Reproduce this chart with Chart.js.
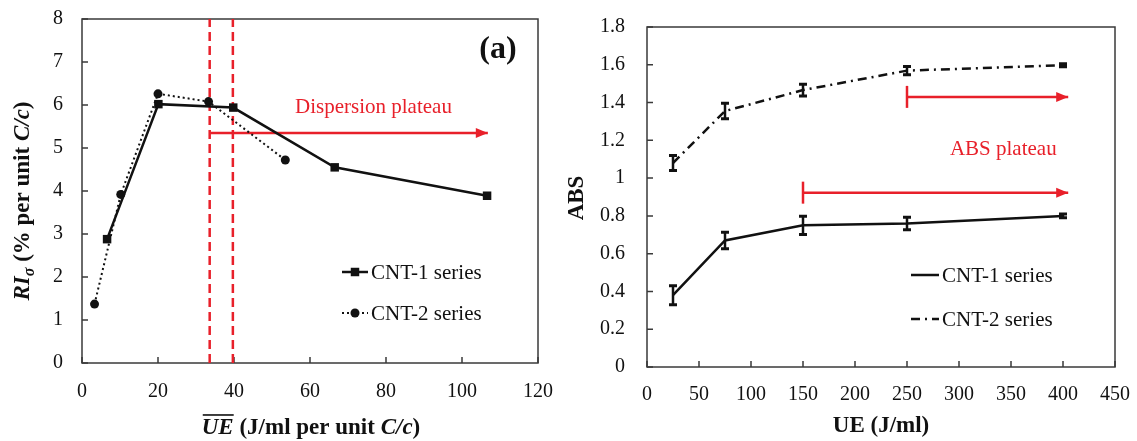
<!DOCTYPE html>
<html>
<head>
<meta charset="utf-8">
<script src="https://cdn.jsdelivr.net/npm/chart.js@4.4.0/dist/chart.umd.min.js"></script>
<style>
  html, body { margin: 0; padding: 0; background: #fff; }
  #wrap { position: relative; width: 1137px; height: 441px; overflow: hidden; }
  canvas { position: absolute; top: 0; }
  #chartA { left: 0; }
  #chartB { left: 560px; }
</style>
</head>
<body>
<div id="wrap">
  <canvas id="chartA" width="560" height="441"></canvas>
  <canvas id="chartB" width="577" height="441"></canvas>
</div>
<script>
// Panel (a): RI_sigma against normalised sonication energy
const ueNormCnt1 = [6.6, 20.1, 39.8, 66.5, 106.6];
const riCnt1 = [2.88, 6.02, 5.94, 4.55, 3.89];
const ueNormCnt2 = [3.3, 10.2, 20.0, 33.3, 53.5];
const riCnt2 = [1.37, 3.92, 6.26, 6.08, 4.72];
const plateauBounds = [33.6, 39.7];
const dispersionArrow = [33.8, 106.8];
const dispersionArrowY = 5.35;

// Panel (b): ABS against UE
const ueLevels = [25, 75, 150, 250, 400];
const absCnt1 = [0.38, 0.67, 0.75, 0.76, 0.80];
const errCnt1 = [0.05, 0.044, 0.048, 0.033, 0.01];
const absCnt2 = [1.08, 1.355, 1.466, 1.569, 1.598];
const errCnt2 = [0.04, 0.041, 0.031, 0.022, 0.008];
const absArrowCnt2 = [250, 405];
const absArrowCnt2Y = 1.43;
const absArrowCnt1 = [150, 405];
const absArrowCnt1Y = 0.923;

const SERIF = '"Liberation Serif", "Times New Roman", serif';
const INK = '#111111';
const RED = '#e8202a';
const FRAME = '#3a3a3a';

function pts(xs, ys) {
  return xs.map((x, i) => ({ x: x, y: ys[i] }));
}
function hline(xs, y) {
  return [{ x: xs[0], y: y }, { x: xs[1], y: y }];
}

// caja del gráfico y marcas hacia dentro
const frameTicks = {
  id: 'frameTicks',
  beforeDatasetsDraw(chart) {
    const { ctx, chartArea: a, scales: { x, y } } = chart;
    ctx.save();
    ctx.strokeStyle = FRAME;
    ctx.lineWidth = 1.5;
    ctx.strokeRect(a.left, a.top, a.right - a.left, a.bottom - a.top);
    ctx.beginPath();
    x.ticks.forEach(t => {
      const px = x.getPixelForValue(t.value);
      ctx.moveTo(px, a.bottom);
      ctx.lineTo(px, a.bottom - 6);
    });
    y.ticks.forEach(t => {
      const py = y.getPixelForValue(t.value);
      ctx.moveTo(a.left, py);
      ctx.lineTo(a.left + 6, py);
    });
    ctx.stroke();
    ctx.restore();
  }
};

// barras de error (solo eje y)
const errorBars = {
  id: 'errorBars',
  afterDatasetsDraw(chart) {
    const { ctx, scales: { y } } = chart;
    chart.data.datasets.forEach((ds, i) => {
      if (!ds.errors) return;
      const meta = chart.getDatasetMeta(i);
      ctx.save();
      ctx.strokeStyle = INK;
      meta.data.forEach((p, j) => {
        const v = ds.data[j].y;
        const e = ds.errors[j];
        const y1 = y.getPixelForValue(v + e);
        const y2 = y.getPixelForValue(v - e);
        ctx.lineWidth = 2.5;
        ctx.beginPath();
        ctx.moveTo(p.x, y1);
        ctx.lineTo(p.x, y2);
        ctx.stroke();
        ctx.lineWidth = 3;
        ctx.beginPath();
        ctx.moveTo(p.x - 4, y1);
        ctx.lineTo(p.x + 4, y1);
        ctx.moveTo(p.x - 4, y2);
        ctx.lineTo(p.x + 4, y2);
        ctx.stroke();
      });
      ctx.restore();
    });
  }
};

// puntas de flecha rojas
const arrowMarks = {
  id: 'arrowMarks',
  afterDatasetsDraw(chart) {
    const ctx = chart.ctx;
    chart.data.datasets.forEach((ds, i) => {
      if (!ds.arrowHead) return;
      const pts = chart.getDatasetMeta(i).data;
      const a = pts[0];
      const b = pts[pts.length - 1];
      ctx.save();
      ctx.fillStyle = ds.borderColor;
      ctx.strokeStyle = ds.borderColor;
      ctx.beginPath();
      ctx.moveTo(b.x, b.y);
      ctx.lineTo(b.x - 12, b.y - 5);
      ctx.lineTo(b.x - 12, b.y + 5);
      ctx.closePath();
      ctx.fill();
      if (ds.startBar) {
        ctx.lineWidth = ds.borderWidth;
        ctx.beginPath();
        ctx.moveTo(a.x, a.y - ds.startBar);
        ctx.lineTo(a.x, a.y + ds.startBar);
        ctx.stroke();
      }
      ctx.restore();
    });
  }
};

// leyenda propia dentro del área
const seriesKey = {
  id: 'seriesKey',
  afterDraw(chart, args, opts) {
    if (!opts.items) return;
    const ctx = chart.ctx;
    opts.items.forEach((it, k) => {
      const ds = chart.data.datasets[it];
      const y = opts.y[k];
      ctx.save();
      ctx.strokeStyle = ds.borderColor;
      ctx.lineWidth = ds.borderWidth;
      ctx.setLineDash(ds.borderDash || []);
      ctx.beginPath();
      ctx.moveTo(opts.x, y);
      ctx.lineTo(opts.x + opts.len, y);
      ctx.stroke();
      ctx.setLineDash([]);
      if (ds.pointRadius > 0) {
        ctx.fillStyle = ds.backgroundColor;
        Chart.helpers.drawPoint(ctx, {
          pointStyle: ds.pointStyle, radius: ds.pointRadius, rotation: 0, borderWidth: 0
        }, opts.x + opts.len / 2, y);
      }
      ctx.fillStyle = INK;
      ctx.font = '21px ' + SERIF;
      ctx.textAlign = 'left';
      ctx.textBaseline = 'middle';
      ctx.fillText(ds.label, opts.x + opts.len + 3, y + 1);
      ctx.restore();
    });
  }
};

function drawRich(ctx, parts, cx, cy, size) {
  let total = 0;
  parts.forEach(p => {
    ctx.font = p.font;
    p.w = ctx.measureText(p.text).width;
    total += p.w;
  });
  let x = cx - total / 2;
  const base = cy + size * 0.32;
  ctx.textAlign = 'left';
  ctx.textBaseline = 'alphabetic';
  parts.forEach(p => {
    ctx.font = p.font;
    ctx.fillText(p.text, x, base + (p.dy || 0));
    if (p.overline) ctx.fillRect(x + 1, base - size * 0.66 - 5, p.w - 1, 1.6);
    x += p.w;
  });
}

// títulos de ejes y textos
const panelText = {
  id: 'panelText',
  afterDraw(chart, args, opts) {
    if (!opts.items) return;
    const ctx = chart.ctx;
    opts.items.forEach(it => {
      ctx.save();
      ctx.fillStyle = it.color || INK;
      let cx = it.x, cy = it.y;
      if (it.data) {
        cx = chart.scales.x.getPixelForValue(it.data[0]);
        cy = chart.scales.y.getPixelForValue(it.data[1]);
      }
      if (it.rotate) {
        ctx.translate(cx, cy);
        ctx.rotate(-Math.PI / 2);
        cx = 0; cy = 0;
      }
      drawRich(ctx, it.parts, cx, cy, it.size);
      ctx.restore();
    });
  }
};

const B = s => 'bold ' + s + 'px ' + SERIF;
const BI = s => 'italic bold ' + s + 'px ' + SERIF;
const R = s => s + 'px ' + SERIF;

function axisOpts(min, max, step, size, pad, fmt) {
  const o = {
    type: 'linear', min: min, max: max,
    grid: { display: false, drawTicks: false }, border: { display: false },
    ticks: { stepSize: step, color: INK, padding: pad, font: { family: SERIF, size: 20 } },
    afterFit(scale) {
      if (scale.isHorizontal()) scale.height = size; else scale.width = size;
      // sin relleno extra por las etiquetas: el área queda fija
      scale.paddingLeft = scale.paddingRight = scale.paddingTop = scale.paddingBottom = 0;
    }
  };
  if (fmt) o.ticks.callback = fmt;
  return o;
}

const plugins = [frameTicks, errorBars, arrowMarks, seriesKey, panelText];

new Chart(document.getElementById('chartA'), {
  type: 'line',
  data: {
    datasets: [
      { label: 'CNT-1 series', data: pts(ueNormCnt1, riCnt1), borderColor: INK, backgroundColor: INK,
        borderWidth: 2.5, pointStyle: 'rect', pointRadius: 6, pointBorderWidth: 0 },
      { label: 'CNT-2 series', data: pts(ueNormCnt2, riCnt2), borderColor: INK, backgroundColor: INK,
        borderWidth: 2, borderDash: [2, 3], pointStyle: 'circle', pointRadius: 4.5, pointBorderWidth: 0 },
      { label: 'lim1', data: [{ x: plateauBounds[0], y: 0 }, { x: plateauBounds[0], y: 8 }],
        borderColor: RED, borderWidth: 2.5, borderDash: [9, 5], pointRadius: 0 },
      { label: 'lim2', data: [{ x: plateauBounds[1], y: 0 }, { x: plateauBounds[1], y: 8 }],
        borderColor: RED, borderWidth: 2.5, borderDash: [9, 5], pointRadius: 0 },
      { label: 'plateau', data: hline(dispersionArrow, dispersionArrowY),
        borderColor: RED, borderWidth: 2.5, pointRadius: 0, arrowHead: true }
    ]
  },
  options: {
    responsive: false,
    animation: false,
    devicePixelRatio: 1,
    layout: { padding: { top: 19, right: 22, left: 0, bottom: 0 } },
    scales: {
      x: axisOpts(0, 120, 20, 78, 17),
      y: axisOpts(0, 8, 1, 82, 19)
    },
    plugins: {
      legend: { display: false },
      tooltip: { enabled: false },
      seriesKey: { items: [0, 1], x: 342, len: 26, y: [272, 313] },
      panelText: {
        items: [
          { rotate: true, x: 22, y: 201, size: 23, parts: [
            { text: 'RI', font: BI(23) }, { text: 'σ', font: BI(16), dy: 5 },
            { text: ' (% per unit ', font: B(23) }, { text: 'C/c', font: BI(23) }, { text: ')', font: B(23) }
          ] },
          { x: 311, y: 427, size: 23, parts: [
            { text: 'UE', font: BI(23), overline: true }, { text: ' (J/ml per unit ', font: B(23) },
            { text: 'C/c', font: BI(23) }, { text: ')', font: B(23) }
          ] },
          { x: 498, y: 48, size: 32, parts: [{ text: '(a)', font: B(32) }] },
          { data: [76.7, 5.98], size: 21, color: RED, parts: [{ text: 'Dispersion plateau', font: R(21) }] }
        ]
      }
    }
  },
  plugins: plugins
});

new Chart(document.getElementById('chartB'), {
  type: 'line',
  data: {
    datasets: [
      { label: 'CNT-1 series', data: pts(ueLevels, absCnt1), errors: errCnt1, borderColor: INK,
        backgroundColor: INK, borderWidth: 2.5, pointRadius: 0 },
      { label: 'CNT-2 series', data: pts(ueLevels, absCnt2), errors: errCnt2, borderColor: INK,
        backgroundColor: INK, borderWidth: 2.5, borderDash: [9, 5, 2, 5], pointRadius: 0 },
      { label: 'plateau2', data: hline(absArrowCnt2, absArrowCnt2Y), borderColor: RED, borderWidth: 2.5,
        pointRadius: 0, arrowHead: true, startBar: 11 },
      { label: 'plateau1', data: hline(absArrowCnt1, absArrowCnt1Y), borderColor: RED, borderWidth: 2.5,
        pointRadius: 0, arrowHead: true, startBar: 11 }
    ]
  },
  options: {
    responsive: false,
    animation: false,
    devicePixelRatio: 1,
    layout: { padding: { top: 27, right: 22, left: 0, bottom: 0 } },
    scales: {
      x: axisOpts(0, 450, 50, 74, 16),
      y: axisOpts(0, 1.8, 0.2, 87, 22, v => String(Math.round(v * 10) / 10))
    },
    plugins: {
      legend: { display: false },
      tooltip: { enabled: false },
      seriesKey: { items: [0, 1], x: 351, len: 28, y: [275, 319] },
      panelText: {
        items: [
          { rotate: true, x: 16, y: 198, size: 23, parts: [{ text: 'ABS', font: B(23) }] },
          { x: 321, y: 425, size: 23, parts: [{ text: 'UE (J/ml)', font: B(23) }] },
          { data: [342.6, 1.16], size: 21, color: RED, parts: [{ text: 'ABS plateau', font: R(21) }] }
        ]
      }
    }
  },
  plugins: plugins
});
</script>
</body>
</html>
